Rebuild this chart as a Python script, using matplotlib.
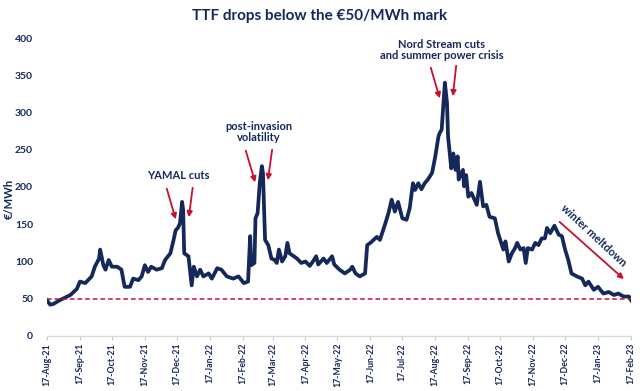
import matplotlib
matplotlib.use("Agg")
import matplotlib.pyplot as plt
import matplotlib.dates as mdates
import pandas as pd

# TTF front-month price
fechas = ["2021-08-17", "2021-08-20", "2021-08-23", "2021-08-29", "2021-09-08", "2021-09-14",
          "2021-09-17", "2021-09-22", "2021-09-28", "2021-10-01", "2021-10-05", "2021-10-06",
          "2021-10-09", "2021-10-11", "2021-10-14", "2021-10-17", "2021-10-22", "2021-10-26",
          "2021-10-29", "2021-11-03", "2021-11-06", "2021-11-11", "2021-11-14", "2021-11-17",
          "2021-11-20", "2021-11-23", "2021-11-28", "2021-12-03", "2021-12-06", "2021-12-11",
          "2021-12-14", "2021-12-16", "2021-12-18", "2021-12-20", "2021-12-22", "2021-12-23",
          "2021-12-24", "2021-12-28", "2021-12-31", "2022-01-02", "2022-01-05", "2022-01-08",
          "2022-01-11", "2022-01-16", "2022-01-19", "2022-01-24", "2022-01-28", "2022-02-02",
          "2022-02-08", "2022-02-13", "2022-02-18", "2022-02-22", "2022-02-24", "2022-02-25",
          "2022-02-28", "2022-03-01", "2022-03-03", "2022-03-05", "2022-03-07", "2022-03-08",
          "2022-03-10", "2022-03-13", "2022-03-16", "2022-03-19", "2022-03-21", "2022-03-23",
          "2022-03-26", "2022-03-29", "2022-03-31", "2022-04-02", "2022-04-09", "2022-04-13",
          "2022-04-17", "2022-04-21", "2022-04-24", "2022-04-27", "2022-04-29", "2022-05-04",
          "2022-05-07", "2022-05-12", "2022-05-14", "2022-05-19", "2022-05-24", "2022-05-29",
          "2022-05-31", "2022-06-03", "2022-06-07", "2022-06-12", "2022-06-14", "2022-06-17",
          "2022-06-20", "2022-06-23", "2022-06-26", "2022-07-01", "2022-07-04", "2022-07-07",
          "2022-07-10", "2022-07-13", "2022-07-17", "2022-07-21", "2022-07-24", "2022-07-27",
          "2022-07-29", "2022-08-01", "2022-08-04", "2022-08-07", "2022-08-10", "2022-08-14",
          "2022-08-17", "2022-08-20", "2022-08-21", "2022-08-23", "2022-08-26", "2022-08-28",
          "2022-08-29", "2022-09-01", "2022-09-03", "2022-09-05", "2022-09-07", "2022-09-08",
          "2022-09-12", "2022-09-13", "2022-09-15", "2022-09-17", "2022-09-20", "2022-09-25",
          "2022-09-28", "2022-10-01", "2022-10-04", "2022-10-07", "2022-10-12", "2022-10-15",
          "2022-10-18", "2022-10-20", "2022-10-22", "2022-10-25", "2022-10-28", "2022-10-31",
          "2022-11-02", "2022-11-05", "2022-11-08", "2022-11-10", "2022-11-12", "2022-11-16",
          "2022-11-19", "2022-11-22", "2022-11-25", "2022-11-28", "2022-11-30", "2022-12-03",
          "2022-12-07", "2022-12-11", "2022-12-14", "2022-12-17", "2022-12-20", "2022-12-23",
          "2022-12-28", "2023-01-02", "2023-01-05", "2023-01-08", "2023-01-13", "2023-01-17",
          "2023-01-22", "2023-01-27", "2023-02-01", "2023-02-05", "2023-02-10", "2023-02-15",
          "2023-02-17"]
precios = [48, 42, 43, 48, 55, 63,
           73, 71, 80, 93, 104, 116,
           95, 89, 102, 93, 93, 89,
           66, 66, 77, 75, 80, 95,
           86, 93, 89, 91, 102, 111,
           129, 142, 145, 151, 180, 169,
           111, 107, 68, 93, 80, 89,
           80, 84, 77, 91, 89, 80,
           77, 80, 71, 73, 134, 95,
           98, 158, 165, 205, 228, 219,
           129, 122, 104, 102, 98, 116,
           100, 107, 125, 111, 104, 98,
           100, 94, 100, 107, 96, 104,
           98, 107, 96, 89, 84, 89,
           93, 84, 80, 84, 122, 125,
           129, 133, 129, 151, 165, 183,
           167, 180, 158, 156, 172, 205,
           196, 205, 197, 205, 210, 219,
           241, 268, 272, 277, 340, 313,
           268, 225, 245, 223, 241, 210,
           223, 201, 216, 187, 192, 176,
           207, 174, 176, 160, 158, 138,
           125, 116, 127, 100, 111, 118,
           125, 116, 118, 98, 118, 116,
           125, 122, 131, 131, 145, 138,
           148, 136, 134, 116, 102, 84,
           80, 77, 68, 73, 62, 66,
           57, 59, 55, 57, 53, 53,
           48]

umbral = 50
meses_ticks = pd.date_range("2021-08-01", "2023-02-01", freq="MS") + pd.Timedelta(days=16)

azul = "#14285a"
rojo = "#c8102e"
plt.rcParams['font.family'] = ['Lato', 'DejaVu Sans']

x = pd.to_datetime(fechas)

fig = plt.figure(figsize=(6.4, 3.91), dpi=100)
ax = fig.add_axes([0.0734, 0.1407, 0.9126, 0.7621])

ax.plot(x, precios, color=azul, lw=2.7, solid_joinstyle="round")
ax.axhline(umbral, color=rojo, lw=1.1, ls=(0, (3, 2)))

ax.set_xlim(pd.Timestamp("2021-08-17"), pd.Timestamp("2023-02-17"))
ax.set_ylim(0, 400)
ax.set_yticks(range(0, 401, 50))
ax.set_xticks(meses_ticks)
ax.xaxis.set_major_formatter(mdates.DateFormatter("%d-%b-%y"))
for lab in ax.get_xticklabels():
    lab.set_rotation(90)
ax.tick_params(axis="x", labelsize=6.3, colors="#c8c8c8", labelcolor=azul, length=3, width=0.8, pad=2)
ax.tick_params(axis="y", labelsize=7.5, length=0, labelcolor=azul, pad=10)
for lab in ax.get_xticklabels() + ax.get_yticklabels():
    lab.set_fontweight("bold")

for s in ["top", "right", "left"]:
    ax.spines[s].set_visible(False)
ax.spines["bottom"].set_color("#d9d9d9")
ax.spines["bottom"].set_linewidth(1.0)

fig.text(0.5, 0.96, "TTF drops below the €50/MWh mark", ha="center", va="center",
         fontsize=11, fontweight="bold", color=azul)
fig.text(0.014, 0.49, "€/MWh", rotation=90, ha="center", va="center",
         fontsize=8, fontweight="bold", color=azul)

# anotaciones (en coordenadas de pixel de la figura, origen arriba)
def px(xp, yp):
    return (xp / 640, 1 - yp / 391)

def flecha(x0, y0, x1, y1):
    ax.annotate("", xy=px(x1, y1), xycoords="figure fraction",
                xytext=px(x0, y0), textcoords="figure fraction",
                arrowprops=dict(arrowstyle="-|>", color=rojo, lw=1.3, mutation_scale=8))

kw = dict(ha="center", va="center", fontsize=8, fontweight="bold", color=azul, linespacing=1.0)
fig.text(*px(178, 175), "YAMAL cuts", **kw)
flecha(166, 186, 176.5, 222)
flecha(193, 185, 188.5, 220)

fig.text(*px(259, 132), "post-invasion\nvolatility", **kw)
flecha(245, 148, 256, 185)
flecha(272.5, 147, 267.5, 183)

fig.text(*px(442, 50), "Nord Stream cuts\nand summer power crisis", **kw)
flecha(430, 65, 440.5, 101)
flecha(456.5, 63, 452.5, 99)

fig.text(*px(594, 236), "winter meltdown", rotation=-43, rotation_mode="anchor", **kw)
flecha(557.5, 220, 626, 281)

fig.savefig("out.png", dpi=100)
